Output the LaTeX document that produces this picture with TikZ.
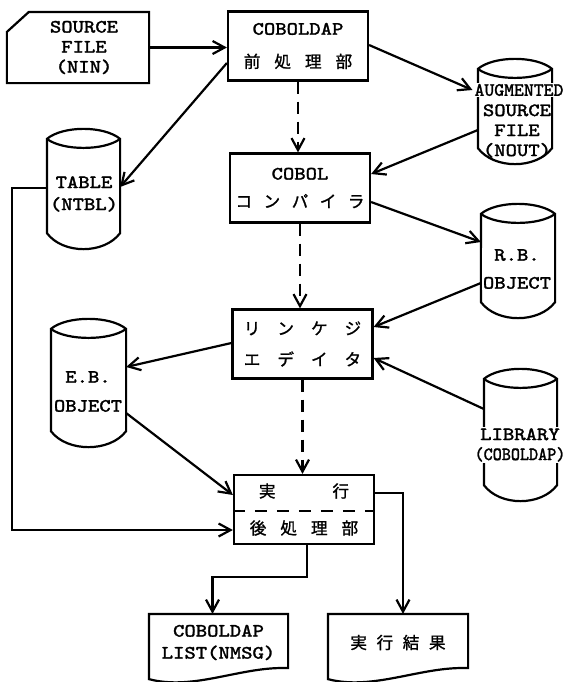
\documentclass[tikz,border=0pt]{standalone}
\usepackage{fontspec}
\usepackage{graphicx}
\usetikzlibrary{arrows.meta}
\setmonofont{Latin Modern Mono}[FakeStretch=1.15, FakeBold=1.5]
\newfontfamily\jfont{Noto Sans CJK JP}[FakeBold=1.2]
\newcommand\Jtext[1]{{\fontsize{8.3}{10}\selectfont\jfont #1}}
\newcommand\jg[1][7pt]{\hskip#1\relax}
\newcommand\Drum[4]{%
    \node[minimum width=#3, minimum height=#4, inner sep=0pt] (#1) at (#2) {};
    \coordinate (#1-tl) at ([yshift=-5pt]#1.north west);
    \coordinate (#1-tr) at ([yshift=-5pt]#1.north east);
    \coordinate (#1-bl) at ([yshift=8pt]#1.south west);
    \coordinate (#1-br) at ([yshift=8pt]#1.south east);
    \draw (#1-tl) .. controls ([xshift=8pt,yshift=6.7pt]#1-tl) and ([xshift=-8pt,yshift=6.7pt]#1-tr) .. (#1-tr)
        -- (#1-br) .. controls ([xshift=-8pt,yshift=-10.7pt]#1-br) and ([xshift=8pt,yshift=-10.7pt]#1-bl) .. (#1-bl) -- cycle;
    \draw (#1-tl) .. controls ([xshift=8pt,yshift=-6pt]#1-tl) and ([xshift=-8pt,yshift=-6pt]#1-tr) .. (#1-tr);
}
\newcommand\Doc[4]{%
    \node[minimum width=#3, minimum height=27.5pt, inner sep=0pt, align=center] (#1) at (#2) {#4};
    \draw (#1.north west) -- (#1.north east) -- ([yshift=1.5pt]#1.south east)
        .. controls ([xshift=-23.5pt,yshift=2.5pt]#1.south east) and ([xshift=22.5pt,yshift=-10pt]#1.south west) .. ([yshift=-4pt]#1.south west) -- cycle;
}

\begin{document}
\begin{tikzpicture}[x=0.5pt, y=-0.5pt, line width=1.1pt,
    >={Straight Barb[length=6pt,width=6.5pt]},
    font=\fontsize{9.4}{10}\selectfont\ttfamily,
    proc/.style={draw, minimum width=70pt, minimum height=34.5pt, align=center, inner sep=0pt},
    drumtext/.style={fill=white, inner sep=0.5pt, align=center},
    flow/.style={->, dash pattern=on 6pt off 4pt}]
    \useasboundingbox (0,0) rectangle (567,682);

    \node[minimum width=70pt, minimum height=34.5pt, align=center] (src) at (78,47.5) {\hspace*{6pt}SOURCE\\\hspace*{6pt}FILE\\\hspace*{6pt}(NIN)};
    \draw ([xshift=11pt]src.north west) -- (src.north east) -- (src.south east) -- (src.south west) -- ([yshift=-10pt]src.north west) -- cycle;

    \node[proc] (pre) at (298,46) {COBOLDAP\\[6.5pt]\Jtext{前\jg 処\jg 理\jg 部}};
    \node[proc] (cob) at (300,188) {COBOL\\[4pt]\Jtext{コ\jg[5.75pt]ン\jg[5.75pt]パ\jg[5.75pt]イ\jg[5.75pt]ラ}};
    \node[proc] (lnk) at (302.5,344) {\Jtext{リ\jg[8.5pt]ン\jg[8.5pt]ケ\jg[8.5pt]ジ}\\[5.5pt]\Jtext{エ\jg[8.5pt]デ\jg[8.5pt]イ\jg[8.5pt]タ}};
    \node[proc] (exe) at (304,509.5) {\Jtext{実\jg[28.5pt]行}\\[8.5pt]\Jtext{後\jg 処\jg 理\jg 部}};
    \draw[dash pattern=on 6pt off 5pt] (exe.west |- 0,511) -- (exe.east |- 0,511);

    \Drum{aug}{515,111.5}{36pt}{51.5pt}
    \node[drumtext] (augtop) at (519,90) {\scalebox{0.87}[1]{AUGMENTED}};
    \node[align=center, inner sep=0pt] (augtext) at (517,131) {SOURCE\\FILE\\(NOUT)};
    \Drum{tbl}{83.5,189}{35.5pt}{59pt}
    \node[drumtext] (tbltext) at (84,194) {TABLE\\[1pt](NTBL)};
    \Drum{rb}{518,261}{36pt}{56pt}
    \node[drumtext] (rbtext) at (517,269) {R.B.\\[4pt]OBJECT};
    \Drum{eb}{88.5,383}{36.5pt}{63pt}
    \node[drumtext] (ebtext) at (88,391.5) {E.B.\\[4.5pt]OBJECT};
    \Drum{lib}{520.5,435}{35.5pt}{65pt}
    \node[drumtext] (libtext) at (520,445) {LIBRARY\\\scalebox{0.8}[1]{(COBOLDAP)}};

    \Doc{lst}{218.5,642.5}{68.5pt}{COBOLDAP\\[1pt]LIST(NMSG)}
    \Doc{res}{398,642.5}{69pt}{\Jtext{実\jg[4.8pt]行\jg[4.8pt]結\jg[4.8pt]果}}

    \draw[->] (src.east) -- (src.east -| pre.west);
    \draw[->] (pre.west |- 0,63) -- (tbl.east |- 0,187);
    \draw[->] (pre.east |- 0,45) -- (augtop.west);
    \draw[flow] (pre.south) -- (pre.south |- cob.north);
    \draw[->] (aug.west |- 0,130) -- (cob.east |- 0,174);
    \draw[->] (cob.east |- 0,202) -- (rb.west |- 0,242);
    \draw[flow] (cob.south) -- (cob.south |- lnk.north);
    \draw[->] (rb.west |- 0,283) -- (lnk.east |- 0,327);
    \draw[->] (lib.west |- 0,409) -- (lnk.east |- 0,358);
    \draw[->] (lnk.west |- 0,343) -- (eb.east |- 0,367);
    \draw[->] (eb.east |- 0,413) -- (exe.west |- 0,495);
    \draw[flow] (lnk.south) -- (lnk.south |- exe.north);
    \draw[->] (tbl.west |- 0,188) -- ++(-35,0) |- (exe.west |- 0,530);
    \draw[->] ([xshift=1.5pt]exe.south) -- ++(0,32) -| ([xshift=-3pt]lst.north);
    \draw[->] (exe.east |- 0,493) -| ([xshift=2.5pt]res.north);
\end{tikzpicture}
\end{document}
